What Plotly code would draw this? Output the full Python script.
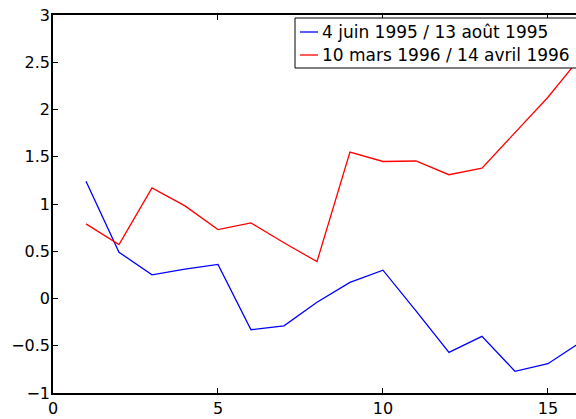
import plotly.graph_objects as go

# Weekly index for each period
x_weeks = list(range(1, 17))

# Series values
juin_aout_1995 = [1.24, 0.49, 0.25, 0.31, 0.36, -0.33, -0.29, -0.04,
                  0.17, 0.30, -0.13, -0.57, -0.40, -0.77, -0.69, -0.46]
mars_avril_1996 = [0.79, 0.57, 1.17, 0.98, 0.73, 0.80, 0.59, 0.39,
                   1.55, 1.45, 1.455, 1.31, 1.38, 1.76, 2.13, 2.56]

series_names = ["4 juin 1995 / 13 août 1995", "10 mars 1996 / 14 avril 1996"]
series_colors = ["rgb(0,0,255)", "rgb(255,0,0)"]

x_ticks = [0, 5, 10, 15]
y_ticks = [-1, -0.5, 0, 0.5, 1, 1.5, 2, 2.5, 3]

W, H = 576, 419
M_L, M_R, M_T, M_B = 53, 0, 15, 26
plot_w = W - M_L - M_R
plot_h = H - M_T - M_B


def px_to_paper_x(px):
    return (px - M_L) / plot_w


def px_to_paper_y(py):
    return (H - M_B - py) / plot_h


fig = go.Figure()
for vals, name, color in zip([juin_aout_1995, mars_avril_1996],
                             series_names, series_colors):
    fig.add_trace(go.Scatter(x=x_weeks, y=vals, mode="lines", name=name,
                             showlegend=False,
                             line=dict(color=color, width=1.3)))

tick_font = dict(family="DejaVu Sans", size=16, color="black")

# Boxed legend in the upper right corner, running off the right edge
box_left, box_top, box_bottom = 295, 18, 68
row_y = [32, 55]
shapes = [dict(type="rect", xref="paper", yref="paper",
               x0=px_to_paper_x(box_left), x1=1.05,
               y0=px_to_paper_y(box_bottom), y1=px_to_paper_y(box_top),
               fillcolor="white", line=dict(color="black", width=1),
               layer="above")]
annotations = []
for name, color, ry in zip(series_names, series_colors, row_y):
    yp = px_to_paper_y(ry)
    shapes.append(dict(type="line", xref="paper", yref="paper",
                       x0=px_to_paper_x(300), x1=px_to_paper_x(318),
                       y0=yp, y1=yp, line=dict(color=color, width=1.3),
                       layer="above"))
    annotations.append(dict(text=name, xref="paper", yref="paper",
                            x=px_to_paper_x(320), y=yp, xanchor="left",
                            yanchor="middle", showarrow=False,
                            font=dict(family="DejaVu Sans", size=17,
                                      color="black")))

fig.update_layout(
    width=W, height=H,
    margin=dict(l=M_L, r=M_R, t=M_T, b=M_B),
    paper_bgcolor="white", plot_bgcolor="white",
    showlegend=False,
    shapes=shapes, annotations=annotations,
    xaxis=dict(
        range=[0, 15.85], tickvals=x_ticks, ticks="inside", ticklen=5,
        tickwidth=1, tickcolor="black", showline=True, linecolor="black",
        linewidth=1.5, mirror="ticks", showgrid=False, zeroline=False,
        tickfont=tick_font,
    ),
    yaxis=dict(
        range=[-1, 3], tickvals=y_ticks, ticks="inside", ticklen=5,
        tickwidth=1, tickcolor="black", showline=True, linecolor="black",
        linewidth=1.5, mirror=False, showgrid=False, zeroline=False,
        tickfont=tick_font, ticklabelstandoff=-2,
    ),
)

fig.write_html("out.html")
